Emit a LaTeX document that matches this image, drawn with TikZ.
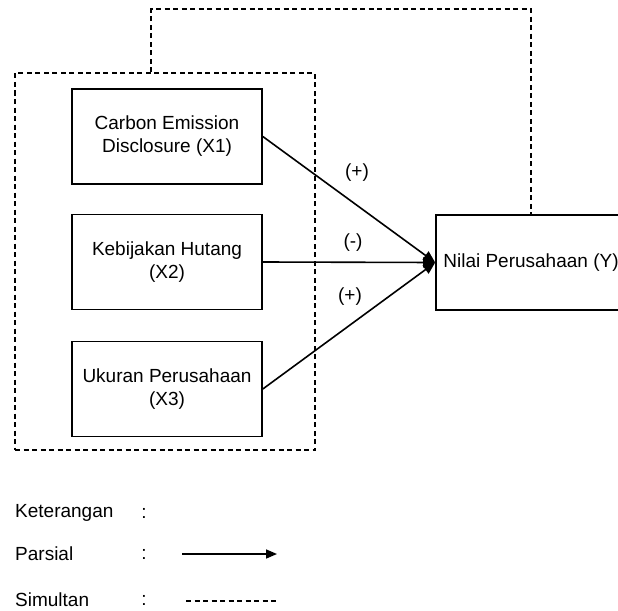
\documentclass[tikz,border=0pt]{standalone}
\usepackage{fontspec}
\setmainfont{Liberation Sans}
\usetikzlibrary{arrows.meta}
\begin{document}
\begin{tikzpicture}
    [x=1pt,y=-1pt,
     txt/.style={font=\fontsize{19}{23}\selectfont,inner sep=0pt},
     varbox/.style={txt,draw,line width=1.6pt,minimum width=190pt,minimum height=95pt,align=center},
     simul/.style={draw,line width=1.5pt,dash pattern=on 5pt off 3.5pt},
     parsial/.style={draw,line width=1.6pt,-{Triangle[length=12pt,width=10pt]}}]
    \useasboundingbox (0,0) rectangle (618,610);
    \node[simul,minimum width=300pt,minimum height=377pt](grp) at (165,261.5){};
    \node[varbox](x1) at (167,136.5){Carbon Emission\\Disclosure (X1)};
    \node[varbox](x2) at (167,262){Kebijakan Hutang\\(X2)};
    \node[varbox](x3) at (167,389){Ukuran Perusahaan\\(X3)};
    \node[varbox](y) at (531,262.5){Nilai Perusahaan (Y)};
    \draw[parsial] (x1.east) -- (y.west);
    \draw[parsial] (x2.east) -- (y.west);
    \draw[parsial] (x3.east) -- (y.west);
    \node[txt](s1) at (357,173){(+)};
    \node[txt](s2) at (353,243){(-)};
    \node[txt](s3) at (350,297){(+)};
    \draw[simul] ([xshift=-14pt]grp.north) -- ++(0,-63) -| (y.north);
    % keterangan
    \node[txt,anchor=west](ket) at (15,513){Keterangan};
    \node[txt,anchor=west](par) at (15,554){Parsial};
    \node[txt,anchor=west](sim) at (15,600){Simultan};
    \node[txt](k1) at (144,513){:};
    \node[txt](k2) at (144,554){:};
    \node[txt](k3) at (144,600){:};
    \coordinate (p1) at (182,554);
    \coordinate (p2) at (277,554);
    \coordinate (q1) at (186,601);
    \coordinate (q2) at (277,601);
    \draw[parsial,-{Triangle[length=11pt,width=9pt]}] (p1) -- (p2);
    \draw[simul,line width=1.2pt] (q1) -- (q2);
\end{tikzpicture}
\end{document}
